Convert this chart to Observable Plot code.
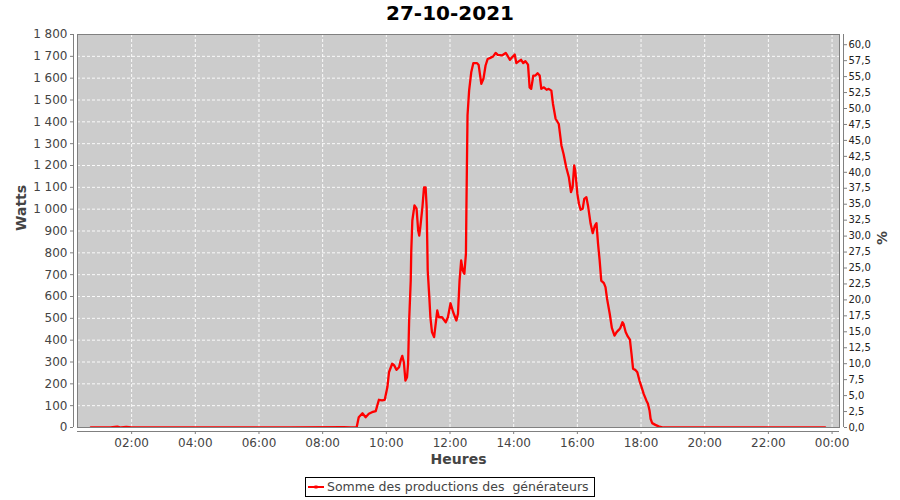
<!DOCTYPE html>
<html><head><meta charset="utf-8">
<script src="https://cdn.jsdelivr.net/npm/d3@7"></script>
<script src="https://cdn.jsdelivr.net/npm/@observablehq/plot@0.6"></script>
<style>
body{margin:0;background:#fff;font-family:"DejaVu Sans",sans-serif;width:900px;height:500px;overflow:hidden;position:relative}
#title{height:26px;line-height:26px;text-align:center;font-weight:bold;font-size:20px;color:#000}
#legend{position:absolute;left:305px;top:477px;width:288px;height:18px;border:1px solid #000;font-size:12.5px;color:#444;line-height:18px;white-space:pre;box-sizing:content-box}
#legend svg{vertical-align:middle;margin:0 3px 2px 2px}
</style></head><body>
<div id="title">27-10-2021</div>
<div id="chart"></div>
<div id="legend"><svg width="16" height="8"><line x1="0" y1="4" x2="16" y2="4" stroke="red" stroke-width="2"/><rect x="6.5" y="2.5" width="3" height="3" fill="red"/></svg>Somme des productions des  générateurs</div>
<script>
const times = ["00:43","01:20","01:33","01:40","01:50","02:00","07:00","08:40","08:53","09:04",
"09:08","09:15","09:21","09:27","09:33","09:40","09:46","09:52","09:57","10:02",
"10:05","10:11","10:15","10:19","10:24","10:27","10:30","10:33","10:36","10:39",
"10:41","10:43","10:46","10:47","10:49","10:53","10:57","11:00","11:02","11:04",
"11:08","11:11","11:14","11:16","11:18","11:21","11:23","11:26","11:30","11:33",
"11:36","11:39","11:45","11:52","11:56","12:01","12:06","12:12","12:15","12:18",
"12:21","12:24","12:27","12:30","12:31","12:33","12:36","12:40","12:44","12:51",
"12:54","12:59","13:03","13:07","13:11","13:16","13:21","13:26","13:30","13:38",
"13:45","13:48","13:53","13:57","14:02","14:05","14:10","14:14","14:18","14:22",
"14:27","14:30","14:33","14:37","14:41","14:45","14:49","14:52","14:57","15:02",
"15:06","15:11","15:14","15:19","15:25","15:30","15:34","15:39","15:44","15:48",
"15:51","15:54","15:56","16:00","16:03","16:06","16:10","16:13","16:17","16:20",
"16:25","16:29","16:33","16:36","16:39","16:42","16:45","16:50","16:53","16:56",
"17:01","17:05","17:10","17:14","17:18","17:21","17:25","17:27","17:31","17:35",
"17:39","17:42","17:45","17:49","17:53","17:57","18:01","18:05","18:10","18:13",
"18:16","18:18","18:21","18:27","18:33","18:42","23:47"];
const watts = [0,0,4,0,3,0,0,2,0,0,
47,65,47,63,70,75,127,124,127,185,
253,292,284,264,276,307,328,299,215,230,
292,490,673,810,948,1017,1002,902,879,917,
1009,1100,1100,1009,719,597,505,437,414,475,
536,505,505,482,505,569,528,490,521,673,
765,719,704,796,1025,1430,1543,1627,1669,1669,
1660,1574,1597,1658,1688,1693,1699,1716,1707,1704,
1716,1704,1684,1696,1708,1669,1678,1684,1669,1678,
1662,1558,1551,1612,1612,1623,1612,1551,1558,1547,
1551,1543,1483,1414,1390,1292,1253,1192,1146,1078,
1100,1200,1177,1070,1025,997,1002,1047,1055,1017,
933,890,925,936,841,765,673,661,643,589,
521,456,421,437,447,456,482,475,437,417,
402,338,269,264,253,215,185,154,124,109,
78,40,20,12,5,0,0];
const wattTicks = [0,100,200,300,400,500,600,700,800,900,1000,1100,1200,1300,1400,1500,1600,1700,1800];
const pctTicks = [0,2.5,5,7.5,10,12.5,15,17.5,20,22.5,25,27.5,30,32.5,35,37.5,40,42.5,45,47.5,50,52.5,55,57.5,60];
const hourTicks = [2,4,6,8,10,12,14,16,18,20,22,24];
const pctMax = 61.6;   // % matching 1800 W
const wattMax = 1800;

const day = (h,m) => new Date(2021,9,27,h,m);
const parse = s => { const [h,m] = s.split(":").map(Number); return day(h,m); };
const data = times.map((t,i) => ({t: parse(t), w: watts[i]}));
const xTicks = hourTicks.map(h => day(h,0));
const x0 = day(0,18), x1 = day(24,14);

const loc = d3.formatLocale({decimal:",", thousands:" ", grouping:[3], currency:["","€"]});
const fmtW = loc.format(",d");
const fmtP = loc.format(".1f");
const fmtT = d3.timeFormat("%H:%M");
const grid = {stroke:"white", strokeOpacity:0.9, strokeWidth:1, strokeDasharray:"3,2"};
const axisCol = "#808080";

const chart = Plot.plot({
  width: 900, height: 442,
  marginLeft: 77, marginRight: 61, marginTop: 8, marginBottom: 41,
  style: {fontFamily: "DejaVu Sans, sans-serif", fontSize: "12px", background: "white", overflow: "visible"},
  x: {type: "time", domain: [x0, x1]},
  y: {domain: [0, wattMax]},
  marks: [
    Plot.frame({fill: "#cccccc", stroke: null}),
    Plot.gridY(wattTicks, grid),
    Plot.gridX(xTicks, grid),
    Plot.line(data, {x: "t", y: "w", stroke: "#ff0000", strokeWidth: 2.3, clip: true}),
    Plot.frame({stroke: axisCol, strokeWidth: 1}),
    Plot.ruleX([x0], {dx: -4, stroke: axisCol}),
    Plot.ruleX([x1], {dx: 4, stroke: axisCol}),
    Plot.ruleY([0], {dy: 4, stroke: axisCol}),
    Plot.axisY(wattTicks, {anchor: "left", dx: -4, tickSize: 3, tickPadding: 3, stroke: axisCol, fill: "#444", tickFormat: fmtW, fontSize: 12, label: null}),
    Plot.axisY(pctTicks.map(p => p * wattMax / pctMax), {anchor: "right", dx: 4, tickSize: 3, tickPadding: 2, stroke: axisCol, fill: "#222", tickFormat: d => fmtP(d * pctMax / wattMax), fontSize: 10, label: null}),
    Plot.axisX(xTicks, {anchor: "bottom", dy: 4, tickSize: 3, tickPadding: 4, stroke: axisCol, fill: "#444", tickFormat: fmtT, fontSize: 12, label: null}),
    Plot.text(["Watts"], {frameAnchor: "left", dx: -56, rotate: -90, fontWeight: "bold", fontSize: 14, fill: "#444"}),
    Plot.text(["Heures"], {frameAnchor: "bottom", dy: 36, fontWeight: "bold", fontSize: 14, fill: "#444"}),
    Plot.text(["%"], {frameAnchor: "right", dx: 43, rotate: -90, fontWeight: "bold", fontSize: 14, fill: "#444"})
  ]
});
document.getElementById("chart").appendChild(chart);
</script>
</body></html>
